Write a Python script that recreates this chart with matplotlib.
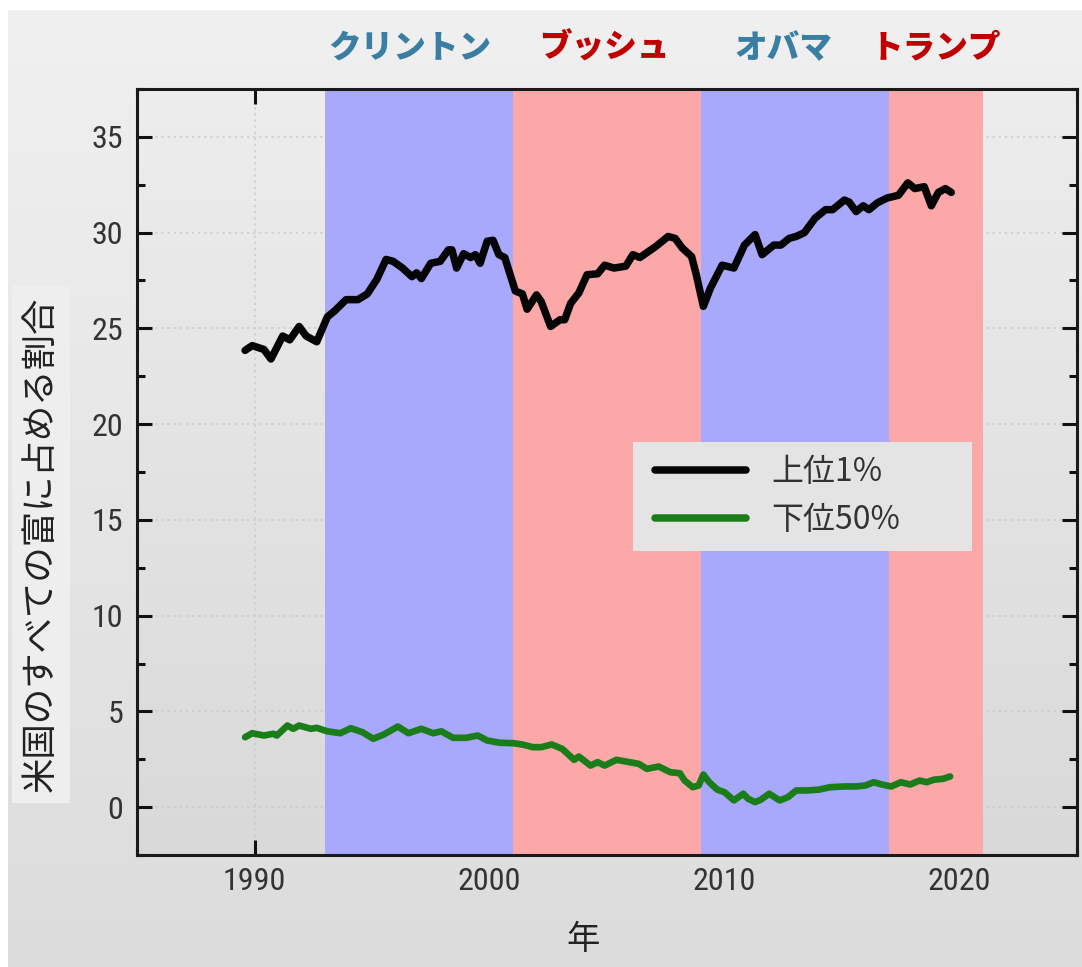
import numpy as np
import matplotlib
matplotlib.use("Agg")
import matplotlib.pyplot as plt
from matplotlib.patches import Rectangle
from matplotlib.ticker import MultipleLocator
import matplotlib.transforms as mtransforms

plt.rcParams['font.family'] = ['Noto Sans CJK JP', 'DejaVu Sans']

# top 1% share
top1_years = [1989.6, 1989.9, 1990.4, 1990.7, 1991.2, 1991.5, 1991.9, 1992.2, 1992.65,
              1993.1, 1993.4, 1993.9, 1994.4, 1994.8, 1995.2, 1995.6, 1995.9, 1996.3,
              1996.7, 1996.9, 1997.1, 1997.5, 1997.9, 1998.25, 1998.4, 1998.6, 1998.9,
              1999.2, 1999.4, 1999.6, 1999.9, 2000.15, 2000.4, 2000.65, 2001.1, 2001.4,
              2001.6, 2002.0, 2002.2, 2002.6, 2003.0, 2003.2, 2003.45, 2003.8, 2004.15,
              2004.6, 2004.9, 2005.3, 2005.8, 2006.1, 2006.4, 2007.1, 2007.6, 2007.9,
              2008.2, 2008.6, 2008.8, 2009.1, 2009.4, 2009.9, 2010.4, 2010.85, 2011.3,
              2011.6, 2012.1, 2012.4, 2012.75, 2013.05, 2013.4, 2013.85, 2014.3, 2014.6,
              2015.1, 2015.3, 2015.6, 2015.9, 2016.15, 2016.5, 2016.9, 2017.4, 2017.8,
              2018.1, 2018.5, 2018.8, 2019.1, 2019.4, 2019.65]
top1_share = [23.85, 24.1, 23.9, 23.4, 24.6, 24.4, 25.1, 24.6, 24.3,
              25.6, 25.9, 26.5, 26.5, 26.8, 27.55, 28.6, 28.5, 28.15,
              27.7, 27.9, 27.6, 28.4, 28.5, 29.1, 29.1, 28.15, 28.9,
              28.7, 28.85, 28.4, 29.55, 29.6, 28.85, 28.7, 26.95, 26.8,
              26.0, 26.75, 26.4, 25.1, 25.45, 25.45, 26.3, 26.85, 27.8,
              27.85, 28.3, 28.15, 28.25, 28.85, 28.7, 29.3, 29.8, 29.7,
              29.2, 28.75, 27.8, 26.15, 27.1, 28.3, 28.15, 29.35, 29.9,
              28.85, 29.35, 29.35, 29.7, 29.8, 30.0, 30.75, 31.2, 31.2,
              31.7, 31.6, 31.1, 31.4, 31.2, 31.55, 31.8, 31.95, 32.6,
              32.3, 32.4, 31.4, 32.1, 32.3, 32.1]

# bottom 50% share
bot50_years = [1989.6, 1989.9, 1990.4, 1990.8, 1990.95, 1991.4, 1991.65, 1991.9, 1992.4,
               1992.65, 1993.1, 1993.65, 1994.1, 1994.6, 1995.05, 1995.5, 1996.1, 1996.55,
               1997.1, 1997.6, 1997.95, 1998.45, 1999.0, 1999.5, 1999.9, 2000.45, 2001.0,
               2001.4, 2001.85, 2002.2, 2002.65, 2003.1, 2003.6, 2003.8, 2004.3, 2004.6,
               2004.9, 2005.4, 2005.95, 2006.35, 2006.7, 2007.2, 2007.7, 2008.1, 2008.3,
               2008.65, 2008.9, 2009.1, 2009.35, 2009.7, 2010.0, 2010.4, 2010.8, 2011.0,
               2011.3, 2011.55, 2011.9, 2012.35, 2012.7, 2013.05, 2013.5, 2014.0, 2014.5,
               2015.1, 2015.6, 2016.0, 2016.35, 2016.7, 2017.1, 2017.5, 2017.9, 2018.3,
               2018.6, 2018.9, 2019.3, 2019.6]
bot50_share = [3.65, 3.86, 3.74, 3.83, 3.74, 4.26, 4.09, 4.26, 4.09,
               4.14, 3.96, 3.86, 4.12, 3.91, 3.57, 3.79, 4.21, 3.86,
               4.09, 3.86, 3.96, 3.62, 3.62, 3.74, 3.48, 3.36, 3.34,
               3.27, 3.13, 3.13, 3.27, 3.04, 2.47, 2.64, 2.17, 2.35,
               2.17, 2.47, 2.35, 2.26, 2.0, 2.12, 1.82, 1.77, 1.39,
               1.04, 1.13, 1.7, 1.3, 0.91, 0.78, 0.35, 0.7, 0.44,
               0.26, 0.39, 0.7, 0.35, 0.52, 0.87, 0.87, 0.91, 1.04,
               1.08, 1.08, 1.13, 1.3, 1.18, 1.08, 1.3, 1.18, 1.39,
               1.3, 1.43, 1.48, 1.6]

# presidencies
pres_names = ["クリントン", "ブッシュ", "オバマ", "トランプ"]
pres_start = [1993, 2001, 2009, 2017]
pres_end = [2001, 2009, 2017, 2021]
pres_label_x = [1996.6, 2004.9, 2012.5, 2019.0]
pres_party = ["D", "R", "D", "R"]

span_col = {"D": "#a8a8fd", "R": "#fda8a8"}
name_col = {"D": "#3b7ea3", "R": "#c00000"}

fig = plt.figure(figsize=(10.82, 9.67), dpi=100, facecolor="white")

# gray backdrop with a light vertical gradient
bg = fig.add_axes([8 / 1082, 0, 1 - 8 / 1082, 1 - 10 / 967], zorder=-10)
grad = np.linspace(0, 1, 256).reshape(-1, 1)
bg.imshow(grad, cmap=matplotlib.colors.LinearSegmentedColormap.from_list("g", ["#f0f0f0", "#dcdcdc"]),
          aspect="auto", extent=[0, 1, 0, 1], origin="upper")
bg.set_axis_off()

ax = fig.add_axes([137 / 1082, 1 - 855 / 967, 940 / 1082, 766 / 967])
ax.imshow(grad, cmap=matplotlib.colors.LinearSegmentedColormap.from_list("a", ["#ededed", "#d9d9d9"]),
          aspect="auto", extent=[1985, 2025, -2.5, 37.5], origin="upper", zorder=0)
ax.set_xlim(1985, 2025)
ax.set_ylim(-2.5, 37.5)

for s, e, p in zip(pres_start, pres_end, pres_party):
    ax.axvspan(s, e, color=span_col[p], lw=0, zorder=1)

ax.set_axisbelow(True)
ax.grid(True, which="major", color="#cbcbcb", ls=(0, (1.5, 2.5)), lw=1.1, zorder=0.5)

ax.plot(top1_years, top1_share, color="#050505", lw=5.4, solid_joinstyle="round",
        solid_capstyle="round", zorder=3, label="上位1%")
ax.plot(bot50_years, bot50_share, color="#1a7d1a", lw=4.8, solid_joinstyle="round",
        solid_capstyle="round", zorder=3, label="下位50%")

ax.xaxis.set_major_locator(MultipleLocator(10))
ax.xaxis.set_minor_locator(MultipleLocator(5))
ax.yaxis.set_major_locator(MultipleLocator(5))
ax.yaxis.set_minor_locator(MultipleLocator(2.5))
ax.tick_params(which="both", direction="in", top=True, right=True, color="#111111", width=2.2)
ax.tick_params(which="major", length=11)
ax.tick_params(which="minor", length=6)
ax.tick_params(axis="y", pad=10)
ax.tick_params(axis="x", pad=9)
for lab in ax.get_xticklabels() + ax.get_yticklabels():
    lab.set_fontfamily(["Roboto Condensed", "Roboto"])
    lab.set_fontsize(23)
    lab.set_color("#333333")
for sp in ax.spines.values():
    sp.set_linewidth(2.2)
    sp.set_color("#1a1a1a")

# legend box
ax.add_patch(Rectangle((0.528, 0.3975), 0.3606, 0.1415, transform=ax.transAxes,
                       facecolor="#e4e4e4", edgecolor="none", zorder=4))
leg = ax.legend(loc="upper left", bbox_to_anchor=(0.541, 0.533), borderaxespad=0,
                frameon=False, fontsize=23, handlelength=2.85, handletextpad=0.78,
                labelspacing=0.5, borderpad=0.3)
leg.set_zorder(5)
for t in leg.get_texts():
    t.set_color("#333333")
for h in leg.get_lines():
    h.set_linewidth(5.4)

# president names above the plot
trans = mtransforms.blended_transform_factory(ax.transData, fig.transFigure)
for nm, lx, p in zip(pres_names, pres_label_x, pres_party):
    fig.text(lx, 1 - 48 / 967, nm, transform=trans, ha="center", va="center",
             fontsize=23.5, fontweight="black", color=name_col[p])

# axis titles
fig.text(41 / 1082, 1 - 544 / 967, "米国のすべての富に占める割合", rotation=90,
         ha="center", va="center", fontsize=25.5, color="#222222",
         bbox=dict(facecolor="#eeeeee", edgecolor="none", pad=8))
fig.text(583 / 1082, 1 - 940 / 967, "年", ha="center", va="center",
         fontsize=24, color="#222222")

fig.savefig("out.png", dpi=100)
